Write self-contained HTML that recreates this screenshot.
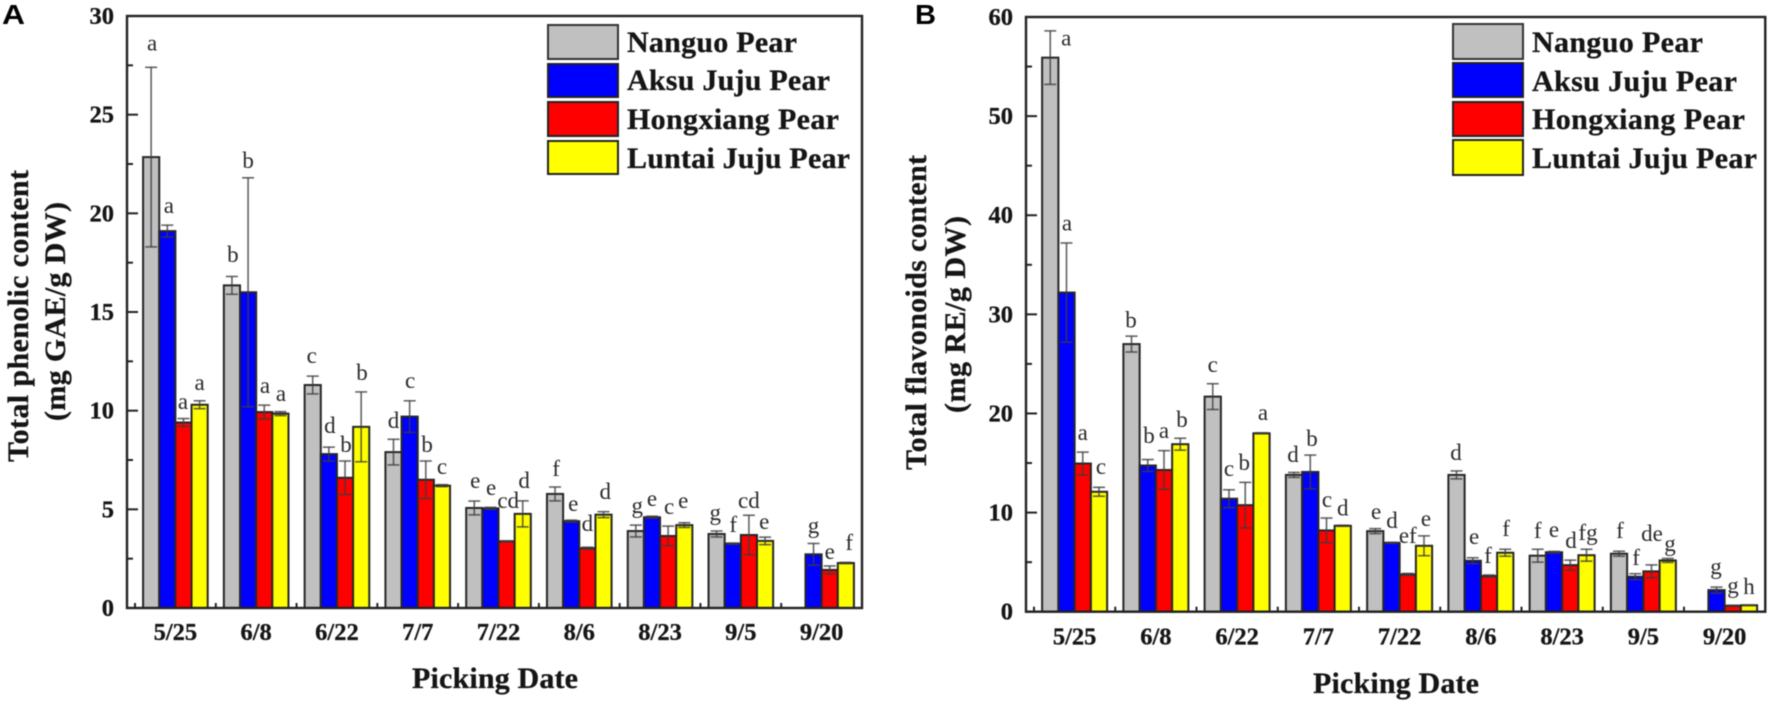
<!DOCTYPE html>
<html lang="en">
<head>
<meta charset="utf-8">
<title>Phenolic and flavonoid content by picking date</title>
<style>
html,body{margin:0;padding:0;background:#fff;width:1772px;height:707px;overflow:hidden}
svg{display:block;filter:blur(0.45px)}
text{font-family:"Liberation Serif",serif;fill:#151515}
.tick-label{font-size:24.5px;font-weight:bold;stroke:#151515;stroke-width:0.3px}
.axis-title{font-size:30px;font-weight:bold;stroke:#151515;stroke-width:0.3px}
.x-title{font-size:30px;font-weight:bold;stroke:#151515;stroke-width:0.3px}
.legend-text{font-size:30px;font-weight:bold;stroke:#151515;stroke-width:0.3px}
.panel-label{font-family:"Liberation Sans",sans-serif;font-size:28px;font-weight:bold;fill:#000}
.sig{font-size:23px;fill:#2a2a2a}
</style>
</head>
<body>
<svg id="figure" width="1772" height="707" viewBox="0 0 1772 707" xmlns="http://www.w3.org/2000/svg">
  <g id="panel-a">
    <text class="panel-label" x="2" y="24" textLength="23" lengthAdjust="spacingAndGlyphs">A</text>
    <text class="axis-title" text-anchor="middle" transform="translate(28 316) rotate(-90)" textLength="292">Total phenolic content</text>
    <text class="axis-title" text-anchor="middle" transform="translate(65 311.5) rotate(-90)" textLength="219">(mg GAE/g DW)</text>
    <text class="x-title" x="412" y="688" textLength="166">Picking Date</text>
    <g>
      <rect x="548" y="25" width="70" height="34" fill="#c0c0c0" stroke="#333" stroke-width="2"/>
      <rect x="548" y="64" width="70" height="33" fill="#0000ff" stroke="#222" stroke-width="2"/>
      <rect x="548" y="102" width="70" height="34" fill="#ff0000" stroke="#222" stroke-width="2"/>
      <rect x="548" y="141" width="70" height="33" fill="#ffff00" stroke="#222" stroke-width="2"/>
      <text class="legend-text" x="627" y="52" textLength="170">Nanguo Pear</text>
      <text class="legend-text" x="627" y="90" textLength="203">Aksu Juju Pear</text>
      <text class="legend-text" x="627" y="129" textLength="212">Hongxiang Pear</text>
      <text class="legend-text" x="627" y="168" textLength="223">Luntai Juju Pear</text>
    </g>
  </g>
  <g id="panel-b">
    <text class="panel-label" x="915" y="24" textLength="21" lengthAdjust="spacingAndGlyphs">B</text>
    <text class="axis-title" text-anchor="middle" transform="translate(926 312.5) rotate(-90)" textLength="315">Total flavonoids content</text>
    <text class="axis-title" text-anchor="middle" transform="translate(965 314.5) rotate(-90)" textLength="197">(mg RE/g DW)</text>
    <text class="x-title" x="1313" y="693" textLength="166">Picking Date</text>
    <g>
      <rect x="1453" y="24" width="70" height="35" fill="#c0c0c0" stroke="#333" stroke-width="2"/>
      <rect x="1453" y="63" width="70" height="34" fill="#0000ff" stroke="#222" stroke-width="2"/>
      <rect x="1453" y="102" width="70" height="34" fill="#ff0000" stroke="#222" stroke-width="2"/>
      <rect x="1453" y="140" width="70" height="35" fill="#ffff00" stroke="#222" stroke-width="2"/>
      <text class="legend-text" x="1532" y="52" textLength="171">Nanguo Pear</text>
      <text class="legend-text" x="1532" y="91" textLength="205">Aksu Juju Pear</text>
      <text class="legend-text" x="1532" y="129" textLength="213">Hongxiang Pear</text>
      <text class="legend-text" x="1532" y="168" textLength="225">Luntai Juju Pear</text>
    </g>
  </g>
</svg>
<script>
const categories = ['5/25','6/8','6/22','7/7','7/22','8/6','8/23','9/5','9/20'];
const seriesNames = ['nanguo','aksu','hongxiang','luntai'];

const yTicksA = [0,5,10,15,20,25,30];
const yMinorA = [2.5,7.5,12.5,17.5,22.5,27.5];
const nanguoA = [22.85,16.35,11.3,7.9,5.07,5.78,3.9,3.75,null];
const nanguoErrA = [4.55,0.45,0.45,0.65,0.35,0.35,0.3,0.15,null];
const aksuA = [19.1,16,7.8,9.7,5.05,4.4,4.6,3.26,2.72];
const aksuErrA = [0.3,5.8,0.35,0.8,0.05,0.05,0.05,0.03,0.55];
const hongxiangA = [9.4,9.93,6.6,6.5,3.38,3.03,3.65,3.7,1.93];
const hongxiangErrA = [0.2,0.35,0.85,0.95,0.02,0.05,0.5,1.0,0.2];
const luntaiA = [10.3,9.85,9.18,6.2,4.77,4.73,4.2,3.4,2.28];
const luntaiErrA = [0.2,0.1,1.77,0.05,0.66,0.15,0.12,0.19,0.03];
const lettersA = [
  ['a','a','a','a'],['b','b','a','a'],['c','d','b','b'],['d','c','b','c'],['e','e','cd','d'],
  ['f','e','d','d'],['g','e','c','e'],['g','f','cd','e'],[null,'g','e','f']
];

const yTicksB = [0,10,20,30,40,50,60];
const yMinorB = [5,15,25,35,45,55];
const nanguoB = [55.9,27,21.7,13.8,8.13,13.8,5.65,5.85,null];
const nanguoErrB = [2.7,0.8,1.3,0.25,0.25,0.4,0.65,0.25,null];
const aksuB = [32.2,14.75,11.4,14.1,6.95,5.14,6.0,3.53,2.18];
const aksuErrB = [5,0.6,0.9,1.7,0.05,0.3,0.08,0.3,0.3];
const hongxiangB = [14.95,14.3,10.75,8.2,3.76,3.6,4.7,4.07,0.6];
const hongxiangErrB = [1.15,1.95,2.3,1.25,0.1,0.1,0.5,0.65,0.05];
const luntaiB = [12.1,16.9,18,8.67,6.65,5.95,5.7,5.17,0.65];
const luntaiErrB = [0.45,0.6,0.05,0.05,1,0.35,0.6,0.2,0.02];
const lettersB = [
  ['a','a','a','c'],['b','b','a','b'],['c','c','b','a'],['d','b','c','d'],['e','d','ef','e'],
  ['d','e','f','f'],['f','e','d','fg'],['f','f','de','g'],[null,'g','g','h']
];

/* hand-placement offsets of the significance letters, relative to each error-bar top */
const letterNudgeA = [
  [[1,-6.7],[1.6,-2.4],[-0.5,0.3],[0,-0.9]],
  [[1,-4.7],[0,0],[0.7,-2.3],[0.6,-0.8]],
  [[-1,-3.3],[1,-4.3],[1,1],[0.8,-2]],
  [[0,-1.4],[0.5,-2.9],[1.3,1],[0,-0.8]],
  [[1,-3.1],[0.7,-2.4],[1.6,-23],[1.4,-2.9]],
  [[1,-1.1],[2,0.8],[0,-6.3],[1.7,-2.8]],
  [[1.4,-2.2],[0,-0.3],[1,-2.2],[-1,-4.8]],
  [[-1.4,-1.1],[0.5,-1.1],[0,2.7],[-0.8,1.8]],
  [[0,0],[0,-0.5],[0,3],[3.4,-2.4]]
];
const letterNudgeB = [
  [[16,24.6],[0.5,-2.7],[0,-2],[2,-3.2]],
  [[-0.5,1.1],[1.3,-6.4],[0,-2.5],[1.8,-1.1]],
  [[0,-1.5],[0,-3.7],[-1,-2.2],[1.5,-2.6]],
  [[-1,-0.3],[1.8,1],[0.5,-1],[0,0]],
  [[0.8,0.4],[0.5,-4.3],[0,-20.4],[2,0]],
  [[-0.5,-1],[1.3,-3.7],[-1,-2],[0.8,-3.2]],
  [[0,-1.2],[0,-4.4],[0.8,-2.1],[1.5,0.8]],
  [[1,-3.2],[0.8,1.3],[0.5,-13.9],[2.3,2.6]],
  [[0,0],[-0.5,-3.1],[0.3,-2.3],[0,-1]]
];

const seriesFill = ['#c0c0c0','#0000ff','#ff0000','#ffff00'];
const svgNS = 'http://www.w3.org/2000/svg';

function el(tag, attrs, parent) {
  const node = document.createElementNS(svgNS, tag);
  for (const k in attrs) node.setAttribute(k, attrs[k]);
  parent.appendChild(node);
  return node;
}

function drawChart(root, cfg) {
  const yScale = v => cfg.bottom - (v - cfg.yMin) / (cfg.yMax - cfg.yMin) * (cfg.bottom - cfg.top);
  const band = (cfg.right - cfg.xStart) / categories.length;
  const xTick = i => cfg.xStart + band * i;
  const barWidth = band / 5;
  const barLeft = (i, k) => xTick(i) + barWidth / 2 + barWidth * k;

  categories.forEach((cat, i) => {
    cfg.series.forEach((values, k) => {
      const v = values[i];
      if (v === null) return;
      const e = cfg.errors[k][i];
      const x = barLeft(i, k);
      const cx = x + barWidth / 2;
      const bar = el('rect', {x: x, y: yScale(v), width: barWidth, height: cfg.bottom - yScale(v), fill: seriesFill[k], stroke: '#262626', 'stroke-width': 2}, root);
      
      

      const stem = el('line', {x1: cx, x2: cx, y1: yScale(v + e), y2: yScale(v - e), stroke: '#3c3c3c', 'stroke-opacity': 0.8, 'stroke-width': 1.6}, root);
      
      
      [v + e, v - e].forEach(end => {
        const cap = el('line', {x1: cx - 6, x2: cx + 6, y1: yScale(end), y2: yScale(end), stroke: '#3c3c3c', 'stroke-opacity': 0.8, 'stroke-width': 1.6}, root);
        
        
      });

      const n = cfg.nudges[i][k];
      const letter = el('text', {class: 'sig', x: cx + n[0], y: yScale(v + e) - 10 + n[1], 'text-anchor': 'middle'}, root);
      letter.textContent = cfg.letters[i][k];
      
      
    });
  });

  const frame = el('rect', {x: cfg.left, y: cfg.top, width: cfg.right - cfg.left, height: cfg.bottom - cfg.top, fill: 'none', stroke: '#222', 'stroke-width': 2.4}, root);
  
  

  cfg.yTicks.forEach(v => {
    const t = el('line', {x1: cfg.left, x2: cfg.left + 11, y1: yScale(v), y2: yScale(v), stroke: '#222', 'stroke-width': 2}, root);
    
    
    const lab = el('text', {class: 'tick-label', x: cfg.left - 13, y: yScale(v) + 8, 'text-anchor': 'end'}, root);
    lab.textContent = v;
    
    
  });
  cfg.yMinor.forEach(v => {
    const t = el('line', {x1: cfg.left, x2: cfg.left + 6, y1: yScale(v), y2: yScale(v), stroke: '#222', 'stroke-width': 2}, root);
    
    
  });
  categories.forEach((cat, i) => {
    const t = el('line', {x1: xTick(i), x2: xTick(i), y1: cfg.bottom, y2: cfg.bottom - 5, stroke: '#222', 'stroke-width': 2}, root);
    
    
    const lab = el('text', {class: 'tick-label', x: xTick(i) + band / 2, y: cfg.bottom + cfg.xLabelGap, 'text-anchor': 'middle'}, root);
    lab.textContent = cat;
    
    
  });
}

drawChart(document.getElementById('panel-a'), {
  left: 127, right: 862, top: 16, bottom: 608, xStart: 135, xLabelGap: 32, yMin: 0, yMax: 30,
  yTicks: yTicksA, yMinor: yMinorA,
  series: [nanguoA, aksuA, hongxiangA, luntaiA],
  errors: [nanguoErrA, aksuErrA, hongxiangErrA, luntaiErrA],
  letters: lettersA, nudges: letterNudgeA
});
drawChart(document.getElementById('panel-b'), {
  left: 1026, right: 1765.25, top: 17, bottom: 611.7, xStart: 1034, xLabelGap: 33, yMin: 0, yMax: 60,
  yTicks: yTicksB, yMinor: yMinorB,
  series: [nanguoB, aksuB, hongxiangB, luntaiB],
  errors: [nanguoErrB, aksuErrB, hongxiangErrB, luntaiErrB],
  letters: lettersB, nudges: letterNudgeB
});
</script>
</body>
</html>
